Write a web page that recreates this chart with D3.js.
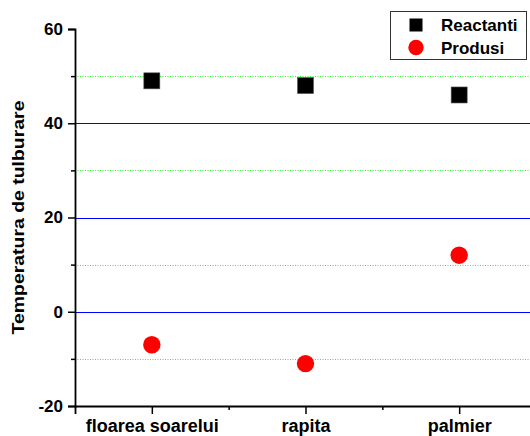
<!DOCTYPE html>
<html>
<head>
<meta charset="utf-8">
<script src="https://cdn.jsdelivr.net/npm/d3@7"></script>
<style>
  html, body { margin: 0; padding: 0; background: #fff; }
  svg { display: block; }
  text { font-family: "Liberation Sans", Arial, sans-serif; font-weight: bold; fill: #000; }
</style>
</head>
<body>
<svg id="chart" width="530" height="436"></svg>
<script>
// Categories and measured values
const categories = ["floarea soarelui", "rapita", "palmier"];
const reactanti = [49, 48, 46];
const produsi = [-7, -11, 12];
const seriesNames = ["Reactanti", "Produsi"];
const yMajorTicks = [-20, 0, 20, 40, 60];
const yMinorTicks = [-10, 10, 30, 50];
const yAxisTitle = "Temperatura de tulburare";

const svg = d3.select("#chart");

// Category positions on a continuous index axis (1..n), half a step of padding each side
const x = d3.scaleLinear().domain([0.5, categories.length + 0.5]).range([75, 536]);
const y = d3.scaleLinear().domain([-20, 60]).range([406, 29]);

// Horizontal grid: solid blue at major values, dotted green at minor values
svg.append("g")
  .selectAll("line")
  .data(yMajorTicks.filter(v => v > -20 && v < 60))
  .join("line")
  .attr("x1", x.range()[0]).attr("x2", x.range()[1])
  .attr("y1", d => Math.round(y(d)) + 0.5).attr("y2", d => Math.round(y(d)) + 0.5)
  .attr("stroke", "#0000ff").attr("stroke-width", 1.2);

svg.append("g")
  .selectAll("line")
  .data(yMinorTicks)
  .join("line")
  .attr("x1", x.range()[0]).attr("x2", x.range()[1])
  .attr("y1", d => Math.round(y(d)) + 0.5).attr("y2", d => Math.round(y(d)) + 0.5)
  .attr("stroke", "#33ee33").attr("stroke-width", 1)
  .attr("stroke-dasharray", "1,1.5");

const labelStyle = sel => sel
  .style("font-family", "'Liberation Sans', Arial, sans-serif")
  .style("font-weight", "bold").attr("fill", "#000");

// Y axis: labelled major ticks plus short unlabelled minor ticks
const yAxis = svg.append("g").attr("transform", `translate(${x.range()[0]},0)`);
yAxis.call(d3.axisLeft(y).tickValues(yMajorTicks).tickSize(7).tickPadding(5).tickFormat(d => String(d)));
yAxis.append("g").call(d3.axisLeft(y).tickValues(yMinorTicks).tickSize(4).tickFormat(""))
  .select(".domain").remove();
yAxis.selectAll(".domain").attr("stroke", "#000").attr("stroke-width", 1.8);
yAxis.selectAll(".tick line").attr("stroke", "#000").attr("stroke-width", 1.5);
yAxis.selectAll(".tick text").call(labelStyle).style("font-size", "17px");

// X axis: category ticks plus minor ticks between categories
const xAxis = svg.append("g").attr("transform", `translate(0,${y.range()[0]})`);
xAxis.call(d3.axisBottom(x).tickValues(d3.range(1, categories.length + 1)).tickSize(8).tickPadding(5)
  .tickFormat(d => categories[d - 1]));
xAxis.append("g").call(d3.axisBottom(x).tickValues(d3.range(1.5, categories.length, 1)).tickSize(4).tickFormat(""))
  .select(".domain").remove();
xAxis.select(".domain").attr("stroke", "#000").attr("stroke-width", 1.8);
xAxis.selectAll(".tick line").attr("stroke", "#000").attr("stroke-width", 1.5);
xAxis.selectAll(".tick text").call(labelStyle).style("font-size", "18px");

// Y axis title
svg.append("text")
  .attr("transform", `translate(24,${(y(60) + y(-20)) / 2}) rotate(-90)`)
  .attr("text-anchor", "middle")
  .attr("textLength", 234).attr("lengthAdjust", "spacingAndGlyphs")
  .style("font-size", "16.5px")
  .text(yAxisTitle);

// Reactanti: black squares
const sq = 16;
svg.append("g")
  .selectAll("rect")
  .data(reactanti)
  .join("rect")
  .attr("x", (d, i) => x(i + 1) - sq / 2)
  .attr("y", d => y(d) - sq / 2)
  .attr("width", sq).attr("height", sq)
  .attr("fill", "#000").attr("stroke", "#555").attr("stroke-width", 0.6);

// Produsi: red circles
svg.append("g")
  .selectAll("circle")
  .data(produsi)
  .join("circle")
  .attr("cx", (d, i) => x(i + 1))
  .attr("cy", d => y(d))
  .attr("r", 8.7)
  .attr("fill", "#ff0000");

// Legend
const legend = svg.append("g");
legend.append("rect")
  .attr("x", 390.5).attr("y", 11.5).attr("width", 136).attr("height", 48)
  .attr("fill", "#fff").attr("stroke", "#333").attr("stroke-width", 1);
legend.append("rect")
  .attr("x", 416 - 6.5).attr("y", 25 - 6.5).attr("width", 13).attr("height", 13)
  .attr("fill", "#000");
legend.append("circle")
  .attr("cx", 416).attr("cy", 47.5).attr("r", 7.7)
  .attr("fill", "#ff0000");
legend.append("text").attr("x", 441).attr("y", 30.5).style("font-size", "17px").text(seriesNames[0]);
legend.append("text").attr("x", 441).attr("y", 53.5).style("font-size", "17px").text(seriesNames[1]);
</script>
</body>
</html>
